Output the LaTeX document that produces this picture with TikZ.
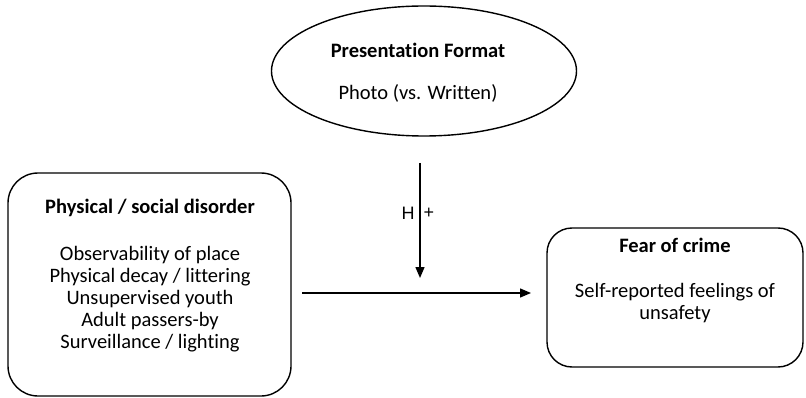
\documentclass[tikz,border=0pt]{standalone}
\usepackage{fontspec}
\setmainfont{Carlito}[Ligatures=NoCommon]
\newfontfamily\arialfont{Liberation Sans}
\usetikzlibrary{shapes.geometric,arrows.meta}
\tikzset{
  ovalbox/.style={draw, line width=1.4pt, ellipse, minimum width=305pt, minimum height=130pt, inner sep=0pt},
  roundbox/.style={draw, line width=1.4pt, rectangle, rounded corners=#1, inner sep=0pt},
  boxtext/.style={align=center, font=\fontsize{20.5}{22}\selectfont, inner sep=0pt},
  linktip/.style={line width=1.4pt, -{Triangle[length=11pt,width=9pt]}},
  signtext/.style={font=\arialfont\fontsize{18}{20}\selectfont, inner sep=0pt}
}
\begin{document}
\begin{tikzpicture}[x=1pt,y=-1pt]
    \useasboundingbox (0,0) rectangle (806,398);
    % moderator
    \node [ovalbox] (format) at (424,71) {};
    \node [boxtext] (formattitle) at (418,50) {\textbf{Presentation Format}};
    \node [boxtext] (formatbody) at (418,93) {Photo (vs. Written)};
    % predictor
    \node [roundbox=30pt, minimum width=283pt, minimum height=223pt] (disorder) at (149.5,284.5) {};
    \node [boxtext] (disordertitle) at (150,208) {\textbf{Physical / social disorder}};
    \node [boxtext, anchor=north] (disorderbody) at (150,246) {Observability of place\\Physical decay / littering\\Unsupervised youth\\Adult passers-by\\Surveillance / lighting};
    % outcome
    \node [roundbox=25pt, minimum width=256pt, minimum height=139pt] (fear) at (675,297.5) {};
    \node [boxtext] (feartitle) at (675,245) {\textbf{Fear of crime}};
    \node [boxtext, anchor=north] (fearbody) at (675,283) {Self-reported feelings of\\unsafety};
    % paths
    \coordinate (vtop) at (420,163);
    \coordinate (vbot) at (420,278);
    \coordinate (hstart) at (302,293);
    \coordinate (hend) at (531,293);
    \draw [linktip] (vtop) -- (vbot);
    \draw [linktip] (hstart) -- (hend);
    \node [signtext] (hyp) at (408,213) {H};
    \node [signtext] (sign) at (429,213) {+};
\end{tikzpicture}
\end{document}
